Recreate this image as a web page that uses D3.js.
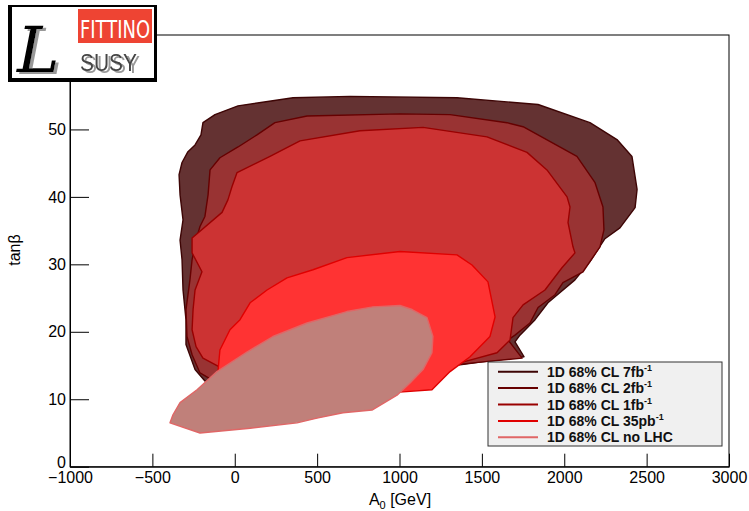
<!DOCTYPE html>
<html>
<head>
<meta charset="utf-8">
<script src="https://cdn.jsdelivr.net/npm/d3@7"></script>
<style>
  body { margin: 0; background: #fff; }
  svg { display: block; font-family: "Liberation Sans", Arial, sans-serif; }
</style>
</head>
<body>
<div id="chart"></div>
<script>
// contours in (A0 [GeV], tanβ)
const contour7fb = [
  [-338, 43.3], [-320, 45.1], [-284, 46.7], [-241, 47.7], [-205, 49.2], [-193, 51.0], [-120, 52.2],
  [20, 53.5], [354, 54.7], [700, 54.9], [1349, 54.7], [1841, 53.7], [2156, 51.0], [2320, 48.5],
  [2411, 46.0], [2442, 41.1], [2430, 38.4], [2338, 35.4], [2247, 33.8], [2156, 30.4], [2065, 27.7],
  [1901, 24.3], [1823, 21.8], [1731, 19.5], [1701, 18.5], [1756, 16.3], [1489, 15.5], [1246, 14.7],
  [882, 13.2], [396, 12.6], [93, 12.4], [-181, 12.7], [-241, 14.4], [-296, 18.1], [-296, 21.8],
  [-314, 26.2], [-320, 30.7], [-332, 33.6], [-314, 36.6], [-332, 40.3]
];
const contour2fb = [
  [-150, 44.0], [-90, 45.8], [20, 47.4], [135, 49.2], [244, 51.0], [439, 52.0], [1003, 52.3],
  [1307, 52.2], [1653, 51.0], [1750, 50.4], [2077, 46.0], [2187, 42.1], [2235, 38.5], [2241, 35.1],
  [2217, 32.6], [2114, 28.9], [1992, 27.3], [1944, 25.5], [1841, 23.6], [1792, 21.3], [1701, 19.5],
  [1659, 18.8], [1744, 16.1], [1489, 15.5], [1185, 14.7], [700, 13.2], [153, 12.6], [-120, 12.6],
  [-211, 13.9], [-259, 16.6], [-290, 19.3], [-296, 23.3], [-272, 27.7], [-259, 30.7], [-235, 33.6],
  [-211, 35.6], [-181, 37.1], [-162, 40.3]
];
const contour1fb = [
  [-259, 33.9], [-77, 37.7], [-41, 39.6], [-17, 41.5], [14, 43.6], [214, 46.0], [396, 48.3],
  [760, 49.8], [1143, 50.3], [1531, 48.9], [1774, 46.6], [1895, 44.0], [2017, 40.0], [2035, 38.5],
  [2023, 36.2], [2053, 32.6], [2065, 31.7], [1986, 29.5], [1883, 26.2], [1750, 24.0], [1689, 22.1],
  [1671, 18.8], [1592, 16.9], [1367, 15.4], [1185, 14.7], [882, 14.1], [396, 13.6], [32, 14.1],
  [-102, 14.9], [-193, 16.1], [-235, 17.8], [-259, 20.3], [-253, 23.3], [-241, 26.2], [-199, 28.9],
  [-259, 31.7]
];
const contour35pb = [
  [-102, 14.1], [-90, 17.3], [-29, 20.3], [32, 21.8], [93, 24.3], [196, 26.2], [317, 28.0],
  [475, 29.2], [681, 31.0], [1003, 31.9], [1349, 31.4], [1440, 29.9], [1537, 27.4], [1580, 22.2],
  [1549, 19.3], [1428, 16.3], [1307, 14.1], [1197, 11.4], [1021, 11.1], [700, 10.6], [275, 10.6],
  [-29, 12.1]
];
const contourNoLHC = [
  [-393, 6.5], [-375, 7.7], [-332, 9.5], [-229, 11.4], [-108, 14.1], [74, 17.0], [232, 19.3],
  [439, 21.3], [681, 23.0], [839, 23.7], [1003, 23.9], [1076, 23.3], [1167, 22.1], [1203, 19.3],
  [1197, 16.9], [1143, 14.4], [1064, 12.4], [985, 10.6], [833, 8.4], [657, 8.0], [499, 7.2],
  [378, 6.5], [93, 5.7], [-211, 5.0]
];

const fillColors = ["#643232", "#993333", "#cc3333", "#ff3333", "#c0807a"];
const lineColors = ["#3d0505", "#660000", "#990000", "#e00000", "#e06666"];
const legendLabels = [
  ["1D 68% CL 7fb", "-1"],
  ["1D 68% CL 2fb", "-1"],
  ["1D 68% CL 1fb", "-1"],
  ["1D 68% CL 35pb", "-1"],
  ["1D 68% CL no LHC", ""]
];

const xMajor = d3.range(-1000, 3001, 500);
const xMinor = d3.range(-1000, 3001, 100).filter(v => v % 500 !== 0);
const yMajor = d3.range(0, 61, 10);
const yMinor = d3.range(2, 64, 2).filter(v => v % 10 !== 0);

const W = 749, H = 511;
const svg = d3.select('#chart').append('svg').attr('width', W).attr('height', H);

const defs = svg.append('defs');
defs.append('filter').attr('id', 'shade')
  .attr('x', '-20%').attr('y', '-20%').attr('width', '140%').attr('height', '140%')
  .append('feDropShadow')
  .attr('dx', 3).attr('dy', 2).attr('stdDeviation', 0.6)
  .attr('flood-color', '#999').attr('flood-opacity', 1);

const x = d3.scaleLinear().domain([-1000, 3000]).range([70, 729]);
const y = d3.scaleLinear().domain([0, 64]).range([466.7, 35]);

const contours = [contour7fb, contour2fb, contour1fb, contour35pb, contourNoLHC];
const line = d3.line().x(d => x(d[0])).y(d => y(d[1])).curve(d3.curveLinearClosed);

svg.append('g').selectAll('path')
  .data(contours)
  .enter()
  .append('path')
  .attr('d', d => line(d))
  .attr('fill', (d, i) => fillColors[i])
  .attr('stroke', (d, i) => lineColors[i])
  .attr('stroke-width', 1.4)
  .attr('stroke-linejoin', 'round');

// frame
svg.append('rect')
  .attr('x', x(-1000)).attr('y', y(64))
  .attr('width', x(3000) - x(-1000)).attr('height', y(0) - y(64))
  .attr('fill', 'none').attr('stroke', '#000').attr('stroke-width', 1);

// x axis
const xg = svg.append('g').attr('transform', `translate(0,${y(0)})`);
xg.call(d3.axisBottom(x).tickValues(xMinor).tickSizeInner(-7).tickSizeOuter(0).tickFormat(''));
xg.call(d3.axisBottom(x).tickValues(xMajor).tickSizeInner(-13).tickSizeOuter(0).tickPadding(5).tickFormat(d3.format('d')));
xg.selectAll('text').attr('font-size', 16).attr('fill', '#000').attr('font-family', null);
xg.selectAll('line, path').attr('stroke', '#000');

// y axis
const yg = svg.append('g').attr('transform', `translate(${x(-1000)},0)`);
yg.call(d3.axisLeft(y).tickValues(yMinor).tickSizeInner(-10).tickSizeOuter(0).tickFormat(''));
yg.call(d3.axisLeft(y).tickValues(yMajor).tickSizeInner(-19).tickSizeOuter(0).tickPadding(4).tickFormat(d3.format('d')));
yg.selectAll('text').attr('font-size', 16).attr('fill', '#000').attr('font-family', null);
yg.selectAll('text').filter(d => d === 0).attr('dy', '0.05em');
yg.selectAll('line, path').attr('stroke', '#000');

// axis titles
const xt = svg.append('text')
  .attr('x', 400).attr('y', 505)
  .attr('text-anchor', 'middle')
  .attr('font-size', 16);
xt.append('tspan').text('A');
xt.append('tspan').attr('font-size', 11).attr('dy', 4).text('0');
xt.append('tspan').attr('dy', -4).text(' [GeV]');

svg.append('text')
  .attr('transform', 'translate(20,250) rotate(-90)')
  .attr('text-anchor', 'middle')
  .attr('font-size', 16)
  .text('tanβ');

// legend
const lg = svg.append('g').attr('transform', 'translate(488,362)');
lg.append('rect')
  .attr('width', 234).attr('height', 84)
  .attr('fill', '#f0f0f0').attr('stroke', '#333').attr('stroke-width', 1);

const rows = lg.selectAll('.legend')
  .data(legendLabels)
  .enter()
  .append('g')
  .attr('class', 'legend')
  .attr('transform', (d, i) => `translate(0,${14.7 + i * 16.4})`);

rows.append('line')
  .attr('x1', 10).attr('x2', 50)
  .attr('y1', -5).attr('y2', -5)
  .attr('stroke', (d, i) => lineColors[i])
  .attr('stroke-width', 2);

const lt = rows.append('text')
  .attr('x', 59).attr('y', 0)
  .attr('font-size', 14).attr('font-weight', 'bold')
  .attr('fill', '#111');
lt.append('tspan').text(d => d[0]);
lt.append('tspan').attr('font-size', 9).attr('dy', -6).text(d => d[1]);

// logo
const logo = svg.append('g');
logo.append('rect').attr('x', 8).attr('y', 5).attr('width', 149).attr('height', 77).attr('fill', '#000');
logo.append('rect').attr('x', 12).attr('y', 7).attr('width', 142).attr('height', 71).attr('fill', '#fff');
logo.append('rect').attr('x', 78).attr('y', 9).attr('width', 74).attr('height', 34).attr('fill', '#ee4433');
logo.append('text')
  .attr('x', 80).attr('y', 38)
  .attr('font-family', '"Liberation Sans Narrow", "DejaVu Sans Condensed", sans-serif')
  .attr('font-size', 25)
  .attr('textLength', 70).attr('lengthAdjust', 'spacingAndGlyphs')
  .attr('fill', '#fff')
  .text('FITTINO');
logo.append('text')
  .attr('x', 80).attr('y', 71)
  .attr('font-size', 23)
  .attr('textLength', 57).attr('lengthAdjust', 'spacingAndGlyphs')
  .attr('fill', '#444')
  .attr('filter', 'url(#shade)')
  .text('SUSY');
logo.append('text')
  .attr('x', 17).attr('y', 72)
  .attr('font-family', '"DejaVu Serif", serif')
  .attr('font-style', 'italic')
  .attr('font-size', 64)
  .attr('fill', '#000')
  .attr('filter', 'url(#shade)')
  .text('L');
</script>
</body>
</html>
